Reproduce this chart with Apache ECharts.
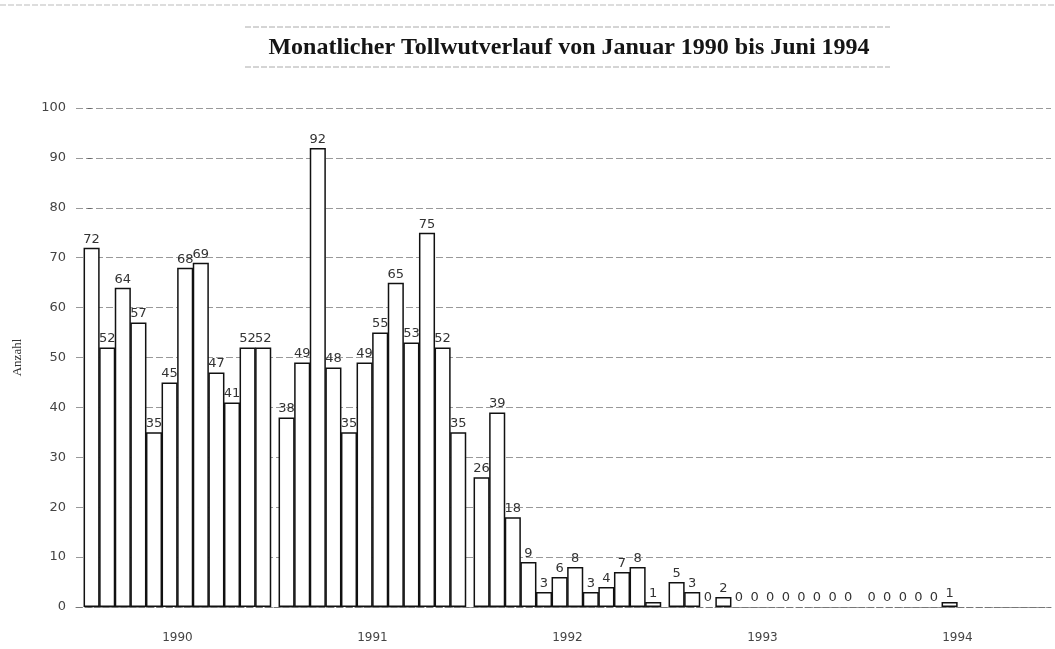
<!DOCTYPE html>
<html>
<head>
<meta charset="utf-8">
<script src="https://cdn.jsdelivr.net/npm/echarts@6/dist/echarts.min.js"></script>
<style>
  html, body { margin: 0; padding: 0; background: #fff; }
  #main { width: 1055px; height: 649px; }
</style>
</head>
<body>
<div id="main"></div>
<script>
// Monatliche Tollwutfaelle, Januar 1990 - Juni 1994
var years = ['1990', '1991', '1992', '1993', '1994'];
var cases1990 = [72, 52, 64, 57, 35, 45, 68, 69, 47, 41, 52, 52];
var cases1991 = [38, 49, 92, 48, 35, 49, 55, 65, 53, 75, 52, 35];
var cases1992 = [26, 39, 18, 9, 3, 6, 8, 3, 4, 7, 8, 1];
var cases1993 = [5, 3, 0, 2, 0, 0, 0, 0, 0, 0, 0, 0];
var cases1994 = [0, 0, 0, 0, 0, 1];
var yTicks = [0, 10, 20, 30, 40, 50, 60, 70, 80, 90, 100];

var byYear = [cases1990, cases1991, cases1992, cases1993, cases1994];
var YEAR_SPAN = 12.5;   // 12 Monate + halbe Luecke zwischen den Jahren

// Monatsposition auf der x-Achse: jahr * 12.5 + monat
var seriesData = [];
byYear.forEach(function (arr, y) {
    arr.forEach(function (v, m) {
        var item = { value: [y * YEAR_SPAN + m, v] };
        if (v === 0) item.itemStyle = { borderColor: 'transparent' };  // keine Linie bei 0
        seriesData.push(item);
    });
});
var yearCenters = years.map(function (_, y) { return y * YEAR_SPAN + 5.5; });

var chart = echarts.init(document.getElementById('main'));
var gridLeft = 76, gridRight = 4;
var xMin = -1, xMax = 61.5;
var barW = (1055 - gridLeft - gridRight) / (xMax - xMin);

var option = {
    backgroundColor: '#fff',
    animation: false,
    title: {
        text: 'Monatlicher Tollwutverlauf von Januar 1990 bis Juni 1994',
        left: 564,
        textAlign: 'center',
        top: 31,
        textStyle: {
            fontFamily: 'Liberation Serif',
            fontWeight: 'bold',
            fontSize: 24,
            color: '#151515'
        }
    },
    graphic: [
        { type: 'line', shape: { x1: 0, y1: 5, x2: 1055, y2: 5 },
          style: { stroke: '#bbb', lineWidth: 1, lineDash: [6, 2] } },
        { type: 'line', shape: { x1: 245, y1: 27, x2: 890, y2: 27 },
          style: { stroke: '#aaa', lineWidth: 1, lineDash: [6, 2] } },
        { type: 'line', shape: { x1: 245, y1: 67, x2: 890, y2: 67 },
          style: { stroke: '#aaa', lineWidth: 1, lineDash: [6, 2] } }
    ],
    grid: { left: gridLeft, right: gridRight, top: 108, bottom: 42 },
    xAxis: {
        type: 'value',
        min: xMin,
        max: xMax,
        splitLine: { show: false },
        axisLine: { show: true, lineStyle: { color: '#777', width: 1, type: [6, 3] } },
        axisTick: { show: false },
        axisLabel: {
            customValues: yearCenters,
            margin: 25,
            fontFamily: 'DejaVu Sans',
            fontSize: 12,
            color: '#444',
            formatter: function (v) {
                var i = yearCenters.indexOf(v);
                return i >= 0 ? years[i] : '';
            }
        }
    },
    yAxis: {
        type: 'value',
        min: 0,
        max: 100,
        interval: 10,
        name: 'Anzahl',
        nameLocation: 'middle',
        nameGap: 52,
        nameTextStyle: { fontFamily: 'Liberation Serif', fontSize: 13, color: '#333' },
        axisLine: { show: false },
        axisTick: { show: true, length: 4, lineStyle: { color: '#666' } },
        axisLabel: {
            margin: 10,
            fontFamily: 'DejaVu Sans',
            fontSize: 13,
            color: '#444',
            formatter: function (v) { return yTicks.indexOf(v) >= 0 ? String(v) : ''; }
        },
        splitLine: { show: true, lineStyle: { color: '#999', width: 1, type: [7, 3] } }
    },
    series: [{
        type: 'bar',
        data: seriesData,
        barWidth: barW + 0.5,
        barCategoryGap: 0,
        itemStyle: { color: '#fff', borderColor: '#111', borderWidth: 1.5 },
        label: {
            show: true,
            position: 'top',
            distance: 2,
            fontFamily: 'DejaVu Sans',
            fontSize: 13,
            color: '#333',
            formatter: function (p) { return p.value[1]; }
        }
    }]
};
chart.setOption(option);
</script>
</body>
</html>
